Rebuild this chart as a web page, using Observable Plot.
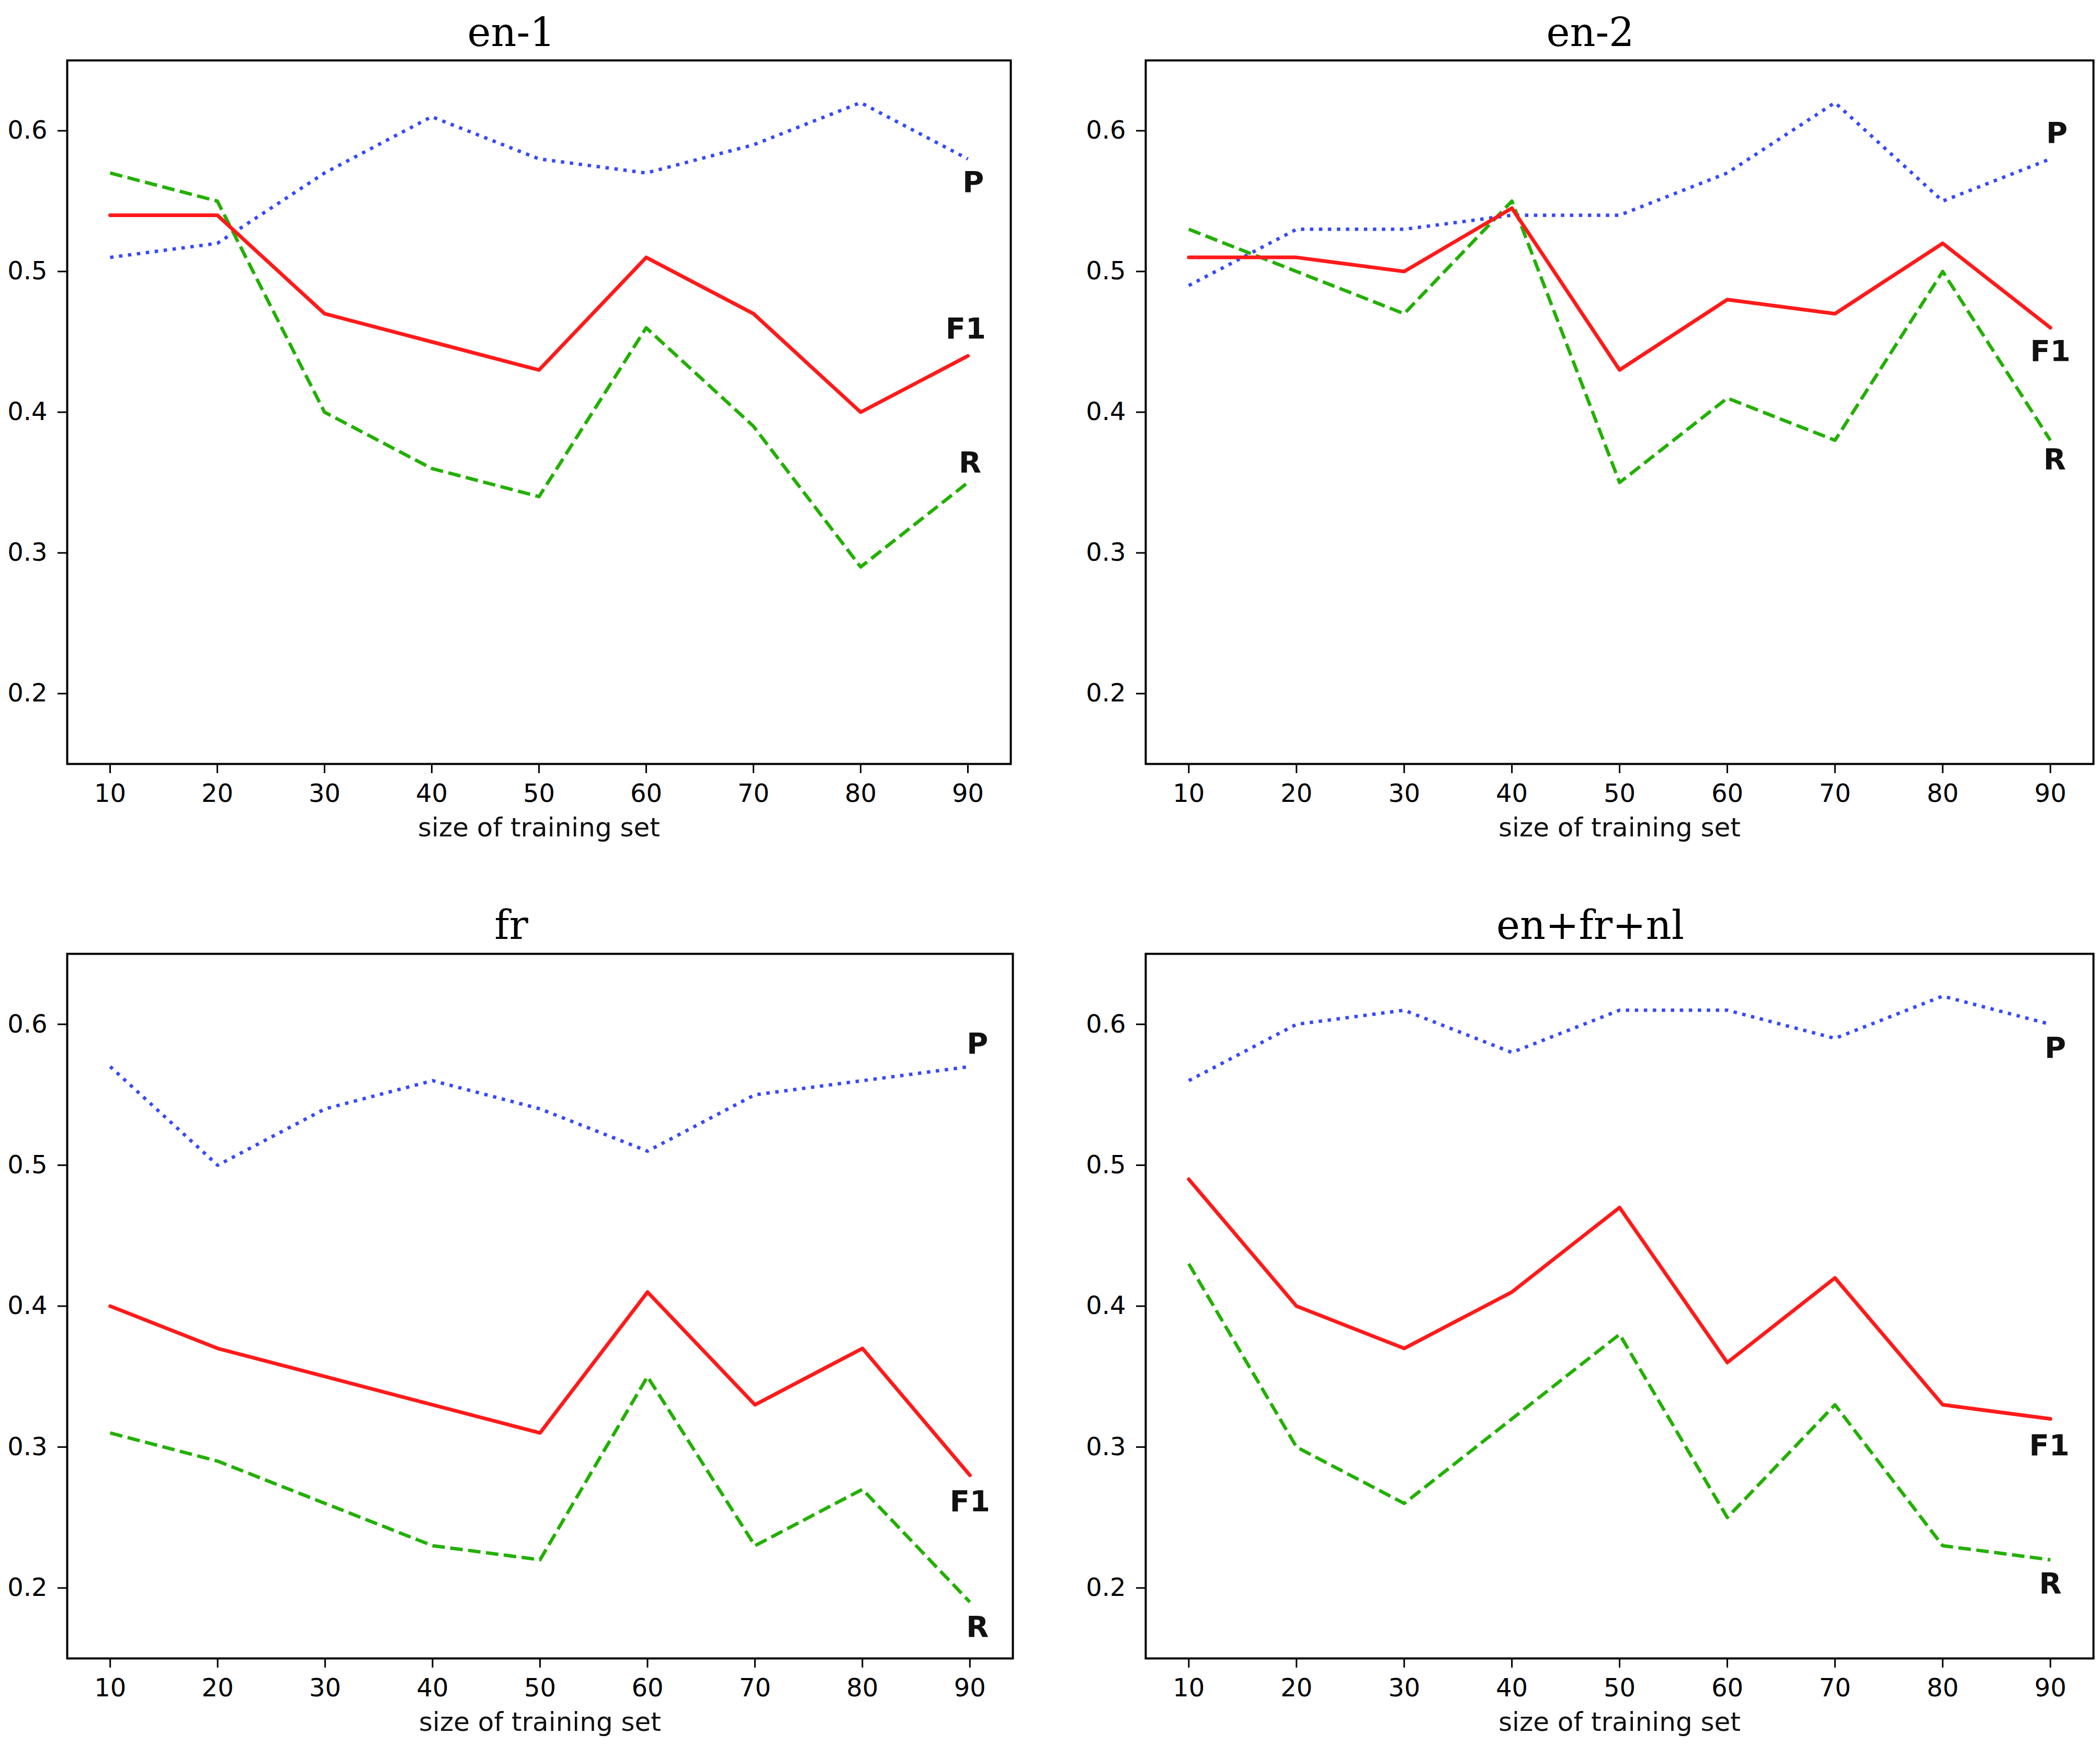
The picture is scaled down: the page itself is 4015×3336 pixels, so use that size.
<!DOCTYPE html>
<html><head><meta charset="utf-8">
<script src="https://cdn.jsdelivr.net/npm/d3@7"></script>
<script src="https://cdn.jsdelivr.net/npm/@observablehq/plot@0.6"></script>
<style>
body{margin:0;background:#fff;}
#wrap{position:relative;width:4015px;height:3336px;background:#fff;overflow:hidden;}
.panel{position:absolute;}
</style></head><body><div id="wrap"></div>
<script>
// ---- data ----
const sizes = [10, 20, 30, 40, 50, 60, 70, 80, 90];
const xTicks = [10, 20, 30, 40, 50, 60, 70, 80, 90];
const yTicks = [0.2, 0.3, 0.4, 0.5, 0.6];
const titles = ["en-1", "en-2", "fr", "en+fr+nl"];
const xLabel = "size of training set";
const labelNames = ["P", "F1", "R"];

const en1P  = [0.51, 0.52, 0.57, 0.61, 0.58, 0.57, 0.59, 0.62, 0.58];
const en1R  = [0.57, 0.55, 0.40, 0.36, 0.34, 0.46, 0.39, 0.29, 0.35];
const en1F1 = [0.54, 0.54, 0.47, 0.45, 0.43, 0.51, 0.47, 0.40, 0.44];
const en1LabelX = [90.5, 89.8, 90.2];
const en1LabelY = [0.563, 0.459, 0.364];

const en2P  = [0.49, 0.53, 0.53, 0.54, 0.54, 0.57, 0.62, 0.55, 0.58];
const en2R  = [0.53, 0.50, 0.47, 0.55, 0.35, 0.41, 0.38, 0.50, 0.38];
const en2F1 = [0.51, 0.51, 0.50, 0.545, 0.43, 0.48, 0.47, 0.52, 0.46];
const en2LabelX = [90.6, 90.0, 90.4];
const en2LabelY = [0.598, 0.443, 0.366];

const frP  = [0.57, 0.50, 0.54, 0.56, 0.54, 0.51, 0.55, 0.56, 0.57];
const frR  = [0.31, 0.29, 0.26, 0.23, 0.22, 0.35, 0.23, 0.27, 0.19];
const frF1 = [0.40, 0.37, 0.35, 0.33, 0.31, 0.41, 0.33, 0.37, 0.28];
const frLabelX = [90.7, 90.0, 90.7];
const frLabelY = [0.586, 0.261, 0.172];

const allP  = [0.56, 0.60, 0.61, 0.58, 0.61, 0.61, 0.59, 0.62, 0.60];
const allR  = [0.43, 0.30, 0.26, 0.32, 0.38, 0.25, 0.33, 0.23, 0.22];
const allF1 = [0.49, 0.40, 0.37, 0.41, 0.47, 0.36, 0.42, 0.33, 0.32];
const allLabelX = [90.45, 89.9, 90.0];
const allLabelY = [0.583, 0.301, 0.203];

// ---- layout ----
const panels = [
  {title: titles[0], P: en1P, R: en1R, F1: en1F1, lx: en1LabelX, ly: en1LabelY,
   left: 0, top: 0, width: 2000, height: 1650, mt: 115, mb: 190, ml: 128, mr: 68, tdx: -53, tdy: -81, ldy: 138},
  {title: titles[1], P: en2P, R: en2R, F1: en2F1, lx: en2LabelX, ly: en2LabelY,
   left: 2000, top: 0, width: 2015, height: 1650, mt: 115, mb: 190, ml: 190, mr: 13, tdx: -56, tdy: -81, ldy: 138},
  {title: titles[2], P: frP, R: frR, F1: frF1, lx: frLabelX, ly: frLabelY,
   left: 0, top: 1680, width: 2000, height: 1656, mt: 143, mb: 166, ml: 128, mr: 64, tdx: -55, tdy: -82, ldy: 138},
  {title: titles[3], P: allP, R: allR, F1: allF1, lx: allLabelX, ly: allLabelY,
   left: 2000, top: 1680, width: 2015, height: 1656, mt: 143, mb: 166, ml: 190, mr: 13, tdx: -56, tdy: -82, ldy: 138}
];

const wrap = document.getElementById("wrap");
for (const p of panels) {
  const rowsOf = (arr) => sizes.map((x, i) => ({x, y: arr[i]}));
  const labels = labelNames.map((n, i) => ({n, x: p.lx[i], y: p.ly[i]}));
  const chart = Plot.plot({
    width: p.width, height: p.height,
    marginTop: p.mt, marginBottom: p.mb, marginLeft: p.ml, marginRight: p.mr,
    x: {domain: [6, 94]},
    y: {domain: [0.15, 0.65]},
    style: {fontFamily: "DejaVu Sans", fontSize: "48px", background: "white", color: "black", overflow: "visible"},
    marks: [
      Plot.line(rowsOf(p.P), {x: "x", y: "y", stroke: "#3548ff", strokeWidth: 6.5, strokeDasharray: "6.5,10.7", strokeLinecap: "butt", strokeLinejoin: "round"}),
      Plot.line(rowsOf(p.R), {x: "x", y: "y", stroke: "#22b000", strokeWidth: 6.5, strokeDasharray: "24,10.4", strokeLinecap: "butt", strokeLinejoin: "round"}),
      Plot.line(rowsOf(p.F1), {x: "x", y: "y", stroke: "#ff1a1a", strokeWidth: 7, strokeLinejoin: "round"}),
      Plot.text(labels, {x: "x", y: "y", text: "n", fontWeight: "bold", fontSize: 56, fontFamily: "DejaVu Sans", fill: "#111"}),
      Plot.frame({stroke: "black", strokeWidth: 4}),
      Plot.axisX({ticks: xTicks, tickSize: 18, tickPadding: 20, strokeWidth: 3, label: null, tickFormat: d3.format("d")}),
      Plot.axisY({ticks: yTicks, tickSize: 18, tickPadding: 20, strokeWidth: 3, label: null, tickFormat: d3.format(".1f")}),
      Plot.text([p.title], {text: d => d, frameAnchor: "top", dx: p.tdx, dy: p.tdy, fontFamily: "DejaVu Serif", fontSize: 76, fill: "black"}),
      Plot.text([xLabel], {text: d => d, frameAnchor: "bottom", dy: p.ldy, fontFamily: "DejaVu Sans", fontSize: 50, fill: "#111"})
    ]
  });
  chart.classList.add("panel");
  chart.style.left = p.left + "px";
  chart.style.top = p.top + "px";
  chart.style.position = "absolute";
  wrap.appendChild(chart);
}
</script></body></html>
